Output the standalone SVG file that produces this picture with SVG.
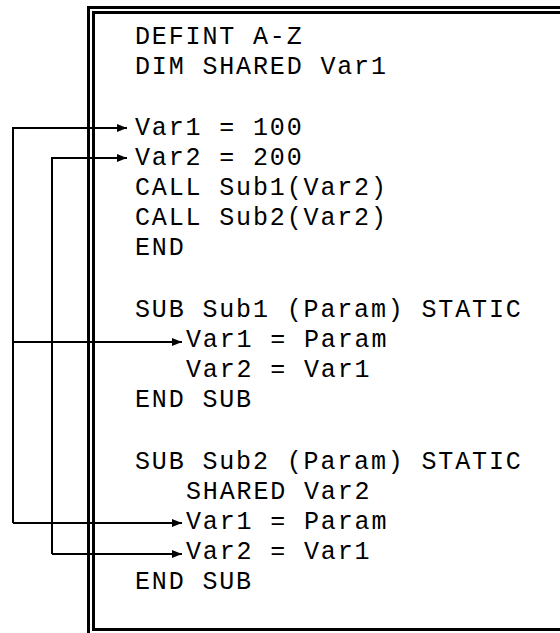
<svg xmlns="http://www.w3.org/2000/svg" width="560" height="633" viewBox="0 0 560 633">
  <style>
    .code { font-family: "Liberation Mono", "DejaVu Sans Mono", monospace; font-size: 25px; letter-spacing: 1.85px; fill: #000; }
    .frame { fill: none; stroke: #000; stroke-width: 3; }
    .wire { fill: none; stroke: #000; stroke-width: 2; }
  </style>
  <defs>
    <marker id="arrow" markerUnits="userSpaceOnUse" markerWidth="10" markerHeight="10" viewBox="0 0 10 10" refX="10" refY="5" orient="auto">
      <path d="M0,1 L10,5 L0,9 Z" fill="#000"/>
    </marker>
  </defs>
  <rect width="560" height="633" fill="#fff"/>

  <!-- double frame around the listing -->
  <g id="frame">
    <path class="frame" d="M88.5,633 V7.5 H560"/>
    <path class="frame" d="M560,12.5 H93.5 V629.5 H560"/>
  </g>

  <!-- program listing -->
  <g id="listing" class="code">
    <text x="135" y="44">DEFINT A-Z</text>
    <text x="135" y="74">DIM SHARED Var1</text>
    <text x="135" y="135">Var1 = 100</text>
    <text x="135" y="165">Var2 = 200</text>
    <text x="135" y="195">CALL Sub1(Var2)</text>
    <text x="135" y="225">CALL Sub2(Var2)</text>
    <text x="135" y="255">END</text>
    <text x="135" y="317">SUB Sub1 (Param) STATIC</text>
    <text x="186" y="347">Var1 = Param</text>
    <text x="186" y="377">Var2 = Var1</text>
    <text x="135" y="407">END SUB</text>
    <text x="135" y="469">SUB Sub2 (Param) STATIC</text>
    <text x="186" y="499">SHARED Var2</text>
    <text x="186" y="529">Var1 = Param</text>
    <text x="186" y="559">Var2 = Var1</text>
    <text x="135" y="589">END SUB</text>
  </g>

  <!-- variable links -->
  <g id="connectors">
    <path class="wire" d="M13,523 V128 H127" marker-end="url(#arrow)"/>
    <path class="wire" d="M13,342 H182" marker-end="url(#arrow)"/>
    <path class="wire" d="M13,523 H182" marker-end="url(#arrow)"/>
    <path class="wire" d="M52,554 V158 H127" marker-end="url(#arrow)"/>
    <path class="wire" d="M52,554 H182" marker-end="url(#arrow)"/>
  </g>
</svg>
